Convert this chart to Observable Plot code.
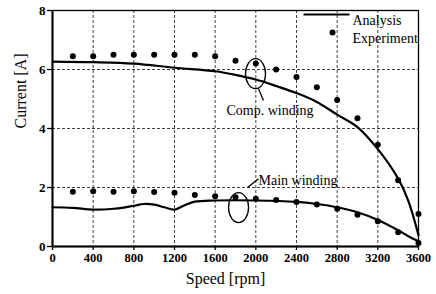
<!DOCTYPE html>
<html><head><meta charset="utf-8">
<script src="https://cdn.jsdelivr.net/npm/d3@7"></script>
<script src="https://cdn.jsdelivr.net/npm/@observablehq/plot@0.6"></script>
<style>body{margin:0;background:#fff} svg{display:block}</style>
</head><body><div id="chart"></div>
<script>
// ---- data ----
const speedTicks = [0, 400, 800, 1200, 1600, 2000, 2400, 2800, 3200, 3600];
const currentTicks = [0, 2, 4, 6, 8];

const analysisCompSpeed   = [0, 400, 800, 1200, 1600, 1800, 2000, 2200, 2400, 2600, 2800, 3000, 3200, 3400, 3500, 3600];
const analysisCompCurrent = [6.27, 6.25, 6.2, 6.06, 5.94, 5.82, 5.66, 5.44, 5.2, 4.9, 4.47, 4.05, 3.3, 2.3, 1.55, 0.38];

const analysisMainSpeed   = [0, 200, 400, 600, 700, 800, 900, 1000, 1100, 1200, 1300, 1400, 1600, 2000, 2400, 2600, 2800, 3000, 3200, 3400, 3500, 3600];
const analysisMainCurrent = [1.33, 1.31, 1.25, 1.28, 1.32, 1.38, 1.44, 1.42, 1.33, 1.25, 1.4, 1.52, 1.56, 1.56, 1.51, 1.44, 1.33, 1.16, 0.9, 0.55, 0.35, 0.18];

const expSpeed       = [200, 400, 600, 800, 1000, 1200, 1400, 1600, 1800, 2000, 2200, 2400, 2600, 2800, 3000, 3200, 3400, 3600];
const expCompCurrent = [6.45, 6.45, 6.5, 6.5, 6.5, 6.5, 6.5, 6.45, 6.3, 6.2, 6.0, 5.75, 5.4, 4.97, 4.35, 3.45, 2.25, 1.1];
const expMainCurrent = [1.86, 1.87, 1.86, 1.87, 1.85, 1.82, 1.75, 1.7, 1.67, 1.62, 1.58, 1.51, 1.42, 1.28, 1.08, 0.86, 0.48, 0.12];

// annotations
const annotLabels   = ["Comp. winding", "Main winding"];
const annotTextX    = [1711, 2026];
const annotTextY    = [4.61, 2.24];
const ellipseX      = [1997, 1830];
const ellipseY      = [5.86, 1.32];
const leaderX1      = [2026, 1918];
const leaderY1      = [5.36, 2.0];
const leaderX2      = [2075, 2026];
const leaderY2      = [4.95, 2.3];

const legendLabels = ["Analysis", "Experiment"];

// ---- build tables ----
const compLine = analysisCompSpeed.map((s, i) => ({speed: s, current: analysisCompCurrent[i]}));
const mainLine = analysisMainSpeed.map((s, i) => ({speed: s, current: analysisMainCurrent[i]}));
const expPts = expSpeed.flatMap((s, i) => [
  {speed: s, current: expCompCurrent[i]},
  {speed: s, current: expMainCurrent[i]}
]);
const annots = annotLabels.map((t, i) => ({
  text: t, tx: annotTextX[i], ty: annotTextY[i],
  ex: ellipseX[i], ey: ellipseY[i],
  x1: leaderX1[i], y1: leaderY1[i], x2: leaderX2[i], y2: leaderY2[i]
}));

function ellipseSymbol(rx, ry) {
  const k = 0.5523;
  return {draw(ctx) {
    ctx.moveTo(rx, 0);
    ctx.bezierCurveTo(rx, ry * k, rx * k, ry, 0, ry);
    ctx.bezierCurveTo(-rx * k, ry, -rx, ry * k, -rx, 0);
    ctx.bezierCurveTo(-rx, -ry * k, -rx * k, -ry, 0, -ry);
    ctx.bezierCurveTo(rx * k, -ry, rx, -ry * k, rx, 0);
    ctx.closePath();
  }};
}
const lineSymbol = {draw(ctx) { ctx.moveTo(-23, 0); ctx.lineTo(23, 0); }};

const F = "Liberation Serif, Times New Roman, serif";

const chart = Plot.plot({
  width: 436,
  height: 294,
  marginLeft: 52,
  marginRight: 18,
  marginTop: 10,
  marginBottom: 48,
  style: {fontFamily: F, color: "black", background: "white"},
  x: {domain: [0, 3600]},
  y: {domain: [0, 8]},
  marks: [
    Plot.gridX(speedTicks, {stroke: "black", strokeOpacity: 0.75, strokeDasharray: "3,2", strokeWidth: 1}),
    Plot.gridY(currentTicks, {stroke: "black", strokeOpacity: 0.75, strokeDasharray: "3,2", strokeWidth: 1}),
    Plot.frame({stroke: "black", strokeWidth: 1.3}),
    Plot.ruleX([0], {stroke: "black", strokeWidth: 2}),
    Plot.ruleY([0], {stroke: "black", strokeWidth: 2}),
    Plot.axisX({ticks: speedTicks, tickFormat: d => String(d), tickSize: 4, tickPadding: 3, fontSize: 12.5, fontFamily: F, fontWeight: "bold", label: null, stroke: "black", strokeWidth: 1.3}),
    Plot.axisY({ticks: currentTicks, tickFormat: d => String(d), tickSize: 5, tickPadding: 2, fontSize: 13, fontFamily: F, fontWeight: "bold", label: null, stroke: "black", strokeWidth: 1.3}),
    Plot.text(["Speed [rpm]"], {frameAnchor: "bottom", dx: -10, dy: 37, fontSize: 16, fontFamily: F, fill: "black"}),
    Plot.text(["Current [A]"], {frameAnchor: "left", dx: -32, rotate: -90, fontSize: 16, fontFamily: F, fill: "black"}),
    Plot.line(compLine, {x: "speed", y: "current", stroke: "black", strokeWidth: 2.2, curve: "catmull-rom"}),
    Plot.line(mainLine, {x: "speed", y: "current", stroke: "black", strokeWidth: 2.2, curve: "catmull-rom"}),
    Plot.dot(expPts, {x: "speed", y: "current", r: 3, fill: "black", stroke: "none"}),
    // annotations
    Plot.dot(annots, {x: "ex", y: "ey", symbol: ellipseSymbol(10, 15), stroke: "black", strokeWidth: 1.3, fill: "none"}),
    Plot.link(annots, {x1: "x1", y1: "y1", x2: "x2", y2: "y2", stroke: "black", strokeWidth: 1.3}),
    Plot.text(annots, {x: "tx", y: "ty", text: "text", textAnchor: "start", fontSize: 14, fontFamily: F, fill: "black"}),
    // legend
    Plot.dot([legendLabels[0]], {frameAnchor: "top-right", dx: -92, dy: 4, symbol: lineSymbol, stroke: "black", strokeWidth: 2.2, fill: "none"}),
    Plot.dot([legendLabels[1]], {frameAnchor: "top-right", dx: -86, dy: 22, r: 3, fill: "black", stroke: "none"}),
    Plot.text([legendLabels[0]], {frameAnchor: "top-right", text: d => d, dx: -66, dy: 5, textAnchor: "start", fontSize: 14, fontFamily: F, fill: "black"}),
    Plot.text([legendLabels[1]], {frameAnchor: "top-right", text: d => d, dx: -66, dy: 23, textAnchor: "start", fontSize: 14, fontFamily: F, fill: "black"})
  ]
});
document.getElementById("chart").appendChild(chart);
</script>
</body></html>
